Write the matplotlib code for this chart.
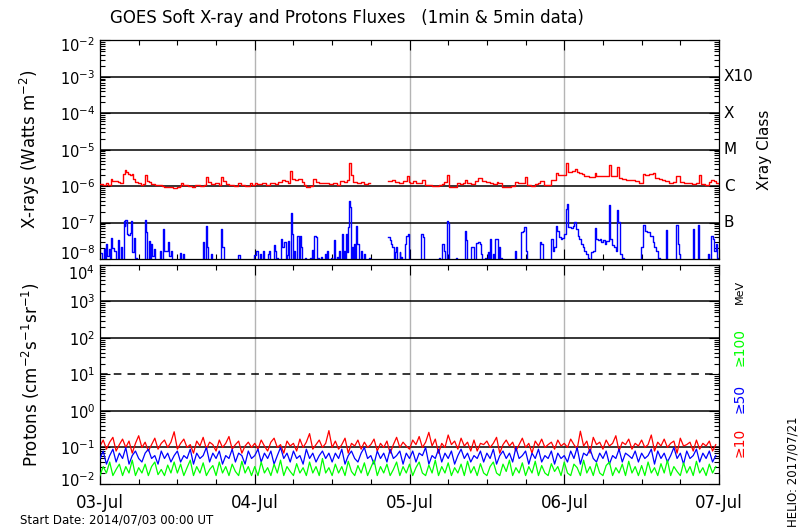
#!/usr/bin/env python3
"""GOES soft X-ray and proton fluxes, 2014-07-03 to 2014-07-07."""

import matplotlib

matplotlib.use("Agg")
from matplotlib import pyplot as plt
from matplotlib.ticker import FixedLocator, LogLocator, NullFormatter
from matplotlib.transforms import ScaledTranslation
import numpy as np

plt.rcParams["font.family"] = ["DejaVu Sans"]

DAY_LABELS = ["03-Jul", "04-Jul", "05-Jul", "06-Jul", "07-Jul"]
XRAY_CLASSES = ["X10", "X", "M", "C", "B"]
XRAY_CLASS_LEVELS = [1e-3, 1e-4, 1e-5, 1e-6, 1e-7]

# 1-8 A channel (red): hours since start, flux in 1e-6 W m-2 (nan = data gap)
xray_long_hours = [
    0.0, 0.5, 0.9, 1.3, 1.66, 1.9, 2.5, 2.8, 3.05, 3.6, 3.85, 4.1, 4.3, 4.6, 4.9, 5.1,
    5.4, 5.9, 6.3, 6.7, 7.0, 7.3, 7.6, 7.9, 8.5, 9.0, 9.6, 10.0, 10.6, 11.3, 12.0, 12.4,
    12.6, 12.9, 13.6, 14.2, 14.8, 15.5, 16.1, 16.5, 16.7, 17.2, 17.8, 18.4, 18.8, 19.1,
    19.5, 20.0, 20.8, 21.4, 21.8, 22.5, 23.2, 23.6, 24.0,
    24.4, 25.2, 25.8, 26.4, 27.1, 27.6, 28.2, 28.7, 29.1, 29.5, 29.75, 30.3, 30.75, 31.3,
    31.6, 32.0, 32.6, 33.1, 33.5, 34.0, 34.8, 35.5, 36.2, 36.8, 37.2, 37.8, 38.3, 38.6,
    38.9, 39.3, 39.9, 40.5, 41.0, 41.5, 41.9, 44.7, 45.3, 45.8, 46.4, 47.0, 47.6, 47.9, 48.1,
    48.5, 49.0, 49.6, 50.0, 50.4, 51.5, 52.5, 53.0, 53.3, 53.8, 54.2, 54.7, 55.3, 55.8,
    56.3, 56.6, 56.9, 57.6, 58.2, 58.7, 59.2, 59.8, 60.5, 61.0, 61.5, 61.8, 62.3, 63.0,
    63.8, 64.4, 64.9, 65.6, 65.9, 66.2, 66.9, 67.5, 68.0, 68.3, 68.8, 69.5, 70.0, 70.7,
    71.0, 72.0, 72.3,
    72.6, 73.2, 73.6, 73.9, 74.3, 74.7, 75.0, 75.8, 76.4, 76.8, 77.0, 78.9, 79.2, 79.9,
    80.2, 80.5, 80.9, 81.6, 82.4, 83.0, 83.6, 84.2, 84.6, 85.2, 85.7, 86.1, 86.7, 87.2,
    87.7, 88.3, 88.8, 89.4, 89.9, 90.5, 91.2, 91.8, 92.4, 92.9, 93.2, 93.8, 94.4, 94.8,
    95.3, 95.6, 96.0,
]
xray_long_flux = [
    1.15, 1.05, 1.2, 1.1, 1.6, 1.35, 1.4, 1.3, 1.2, 2.1, 2.75, 2.4, 2.1, 2.0, 2.2, 1.6,
    1.3, 1.2, 1.1, 1.15, 2.0, 1.4, 1.3, 1.15, 1.05, 1.1, 1.0, 0.95, 0.92, 0.9, 0.92, 1.0,
    1.2, 1.05, 1.0, 0.95, 1.05, 1.0, 1.1, 1.8, 1.3, 1.15, 1.2, 1.1, 1.8, 1.4,
    1.15, 1.05, 1.0, 1.2, 1.05, 1.0, 1.2, 1.1, 1.25,
    1.15, 1.2, 1.1, 1.25, 1.15, 1.3, 1.5, 1.35, 1.2, 2.6, 1.6, 1.5, 1.6, 1.3,
    1.05, 0.95, 1.0, 1.6, 1.3, 1.2, 1.25, 1.15, 1.2, 1.1, 1.35, 1.3, 1.45, 4.2,
    2.0, 1.3, 1.2, 1.3, 1.15, 1.25, np.nan, 1.4, 1.45, 1.3, 1.25, 1.35, 1.9, 1.3, 1.2,
    1.35, 1.2, 1.25, 1.5, 1.05, 1.03, 1.05, 1.15, 1.3, 2.0, 0.97, 0.93, 1.2, 1.15,
    1.2, 1.5, 1.2, 1.15, 1.4, 1.7, 1.35, 1.3, 1.2, 1.15, 1.3, 1.2, 0.95, 0.93,
    1.0, 1.3, 1.2, 1.25, 1.8, 1.05, 1.0, 1.15, 1.2, 1.35, 1.05, 1.1, 1.5, 2.3,
    2.0, 2.0, 4.2,
    2.5, 2.6, 3.0, 2.5, 2.3, 2.1, 1.85, 1.8, 1.75, 2.25, 1.95, 3.8, 1.9, 1.85,
    3.4, 1.7, 1.55, 1.5, 1.45, 1.35, 1.25, 2.2, 2.05, 2.1, 2.3, 1.7, 1.55, 1.5,
    1.35, 1.25, 1.3, 1.95, 1.3, 1.2, 1.25, 1.15, 1.2, 2.0, 1.15, 1.1, 1.3, 1.5,
    1.4, 1.2, 1.15,
]

# 0.5-4 A channel (blue): hours since start, flux in 1e-8 W m-2 (values < 1 sit below the axis)
xray_short_hours = [
    0.0, 0.25, 0.6, 0.8, 0.95, 1.15, 1.45, 1.6, 1.7, 1.9, 2.2, 2.45, 2.75, 2.95, 3.25, 3.4,
    3.65, 3.85, 3.95, 4.15, 4.4, 4.6, 4.8, 4.95, 5.3, 5.5, 5.8, 6.95, 7.15, 7.35, 7.55, 7.7,
    7.95, 8.1, 8.45, 8.6, 9.25, 9.4, 9.75, 9.9, 10.5, 10.7, 10.95, 11.1, 12.35, 12.5, 12.85,
    13.0, 15.9, 16.1, 16.4, 16.6, 16.8, 17.25, 17.4, 18.7, 18.95, 19.2, 21.4, 21.7, 23.9,
    24.25,
    24.45, 24.75, 24.9, 25.25, 25.4, 26.05, 26.2, 26.4, 26.95, 27.1, 27.3, 27.45, 27.6,
    28.1, 28.3, 28.6, 28.8, 28.95, 29.1, 29.3, 29.55, 29.7, 29.9, 30.05, 30.2, 30.6, 30.8,
    30.95, 31.1, 31.35, 31.75, 31.9, 32.55, 32.7, 32.85, 33.0, 33.25, 33.45, 33.65, 33.75,
    33.9, 34.35, 34.5, 34.85, 35.0, 35.25, 35.4, 35.85, 36.0, 36.35, 36.5, 36.75, 36.9,
    37.1, 37.25, 37.5, 37.65, 37.85, 38.0, 38.15, 38.3, 38.45, 38.6, 38.8, 39.0, 39.1,
    39.25, 39.35, 39.5, 39.7, 39.9, 40.1, 40.45, 40.6, 40.95, 41.1, 41.75, 41.9, 44.7,
    44.95, 45.15, 45.35, 45.6, 45.75, 45.9, 46.1, 46.45, 46.6, 46.75, 46.9, 47.25, 47.45,
    47.7, 47.95,
    48.3, 49.85, 50.05, 50.3, 52.65, 52.8, 53.1, 53.3, 53.45, 53.8, 54.0, 54.15, 55.25,
    55.4, 56.55, 56.75, 56.95, 57.55, 57.75, 57.95, 58.3, 58.6, 58.9, 59.1, 59.3, 59.65,
    59.8, 60.15, 60.3, 60.55, 60.7, 60.95, 61.1, 61.25, 61.55, 61.7, 61.85, 62.0, 62.25,
    62.4, 64.35, 64.5, 65.35, 65.55, 65.8, 66.0, 66.25, 68.25, 68.45, 68.65, 70.0, 70.2,
    70.45, 70.7, 70.95, 71.2, 71.45, 71.7, 71.95, 72.2, 72.45,
    72.65, 73.0, 73.3, 73.55, 73.8, 74.1, 74.35, 74.6, 74.85, 75.1, 75.4, 75.65, 75.9,
    76.2, 76.45, 76.7, 76.95, 77.2, 77.5, 77.75, 78.0, 78.3, 78.55, 78.9, 79.1, 79.4,
    79.7, 79.95, 80.2, 80.4, 80.7, 81.0, 81.3, 83.9, 84.2, 84.5, 84.9, 85.3, 85.7, 85.95,
    86.2, 86.6, 86.9, 87.85, 88.0, 89.4, 89.6, 89.85, 90.0, 91.95, 92.1, 92.75, 92.9,
    94.25, 94.5, 94.75, 95.0, 95.3, 95.5, 95.75, 96.0,
]
xray_short_flux = [
    1.45, 0.5, 1.9, 0.5, 2.6, 1.2, 1.9, 0.5, 3.8, 2.0, 1.7, 0.5, 3.4, 0.5, 2.2, 0.5,
    11.3, 8.0, 11.7, 5.0, 4.5, 5.2, 11.3, 1.55, 3.8, 1.1, 0.5, 11.8, 5.4, 0.5, 3.1, 0.5,
    2.6, 1.2, 1.9, 0.5, 1.7, 0.5, 6.7, 1.7, 2.9, 1.2, 1.7, 0.5, 1.5, 0.5, 1.4,
    0.5, 2.9, 0.5, 8.3, 2.2, 0.5, 1.4, 0.5, 6.7, 2.2, 0.5, 1.3, 0.5, 1.3,
    1.7,
    0.5, 1.4, 0.5, 1.7, 0.5, 1.4, 1.7, 0.5, 2.5, 1.7, 0.5, 1.1, 0.5,
    3.6, 2.2, 2.9, 0.5, 1.25, 3.2, 0.5, 18.0, 4.9, 0.5, 1.7, 0.5, 4.4, 0.5,
    4.2, 2.2, 0.5, 1.1, 0.5, 1.1, 0.5, 1.8, 0.5, 4.4, 4.0, 0.5, 1.1,
    0.5, 1.15, 0.5, 1.4, 0.5, 1.7, 0.5, 1.1, 0.5, 3.3, 0.5, 1.15, 0.5,
    1.7, 0.5, 4.9, 0.5, 1.7, 0.5, 4.9, 1.6, 7.4, 38.0, 26.0, 0.5, 2.2,
    0.5, 2.6, 0.5, 8.3, 2.6, 0.5, 1.7, 0.5, 1.4, 0.5, 1.1, np.nan, 3.9,
    3.3, 2.6, 2.2, 0.5, 1.55, 2.2, 0.5, 1.55, 0.5, 1.15, 0.5, 2.6, 4.4,
    4.9, 0.5,
    0.5, 4.9, 3.9, 0.5, 1.1, 0.5, 2.6, 1.7, 0.5, 11.3, 9.6, 0.5, 1.1,
    0.5, 6.0, 3.3, 0.5, 2.2, 2.1, 0.5, 2.7, 2.9, 2.6, 1.4, 0.5, 1.1,
    0.5, 1.55, 0.5, 3.6, 0.5, 1.4, 0.5, 3.6, 3.5, 0.5, 2.2, 0.5, 1.1,
    0.5, 1.7, 0.5, 5.4, 6.0, 7.4, 1.7, 0.5, 2.9, 2.6, 0.5, 3.6, 1.7,
    2.2, 8.3, 6.0, 3.9, 3.6, 3.8, 4.9, 24.0, 32.0,
    7.5, 7.3, 8.3, 10.2, 6.7, 4.4, 3.6, 2.6, 2.2, 1.7, 1.4, 1.1, 0.8,
    1.55, 1.7, 7.1, 3.6, 3.3, 3.6, 3.0, 3.3, 2.6, 3.1, 31.0, 3.6, 2.4,
    2.2, 1.7, 22.0, 10.2, 1.4, 1.1, 0.5, 2.2, 8.8, 6.0, 5.4, 4.4, 2.9, 2.2,
    1.7, 1.1, 0.5, 6.3, 0.5, 8.8, 2.6, 1.4, 0.5, 6.7, 0.5, 8.8, 0.5,
    1.4, 0.5, 4.4, 3.6, 1.7, 2.6, 1.1, 0.5,
]

# integral proton fluxes (pfu), one value every 30 minutes
proton_hours = np.arange(0.0, 96.0, 0.5)
proton_10mev = [
    0.11, 0.16, 0.09, 0.14, 0.19, 0.08, 0.12, 0.17, 0.10, 0.15, 0.07, 0.13, 0.21, 0.10, 0.14, 0.08, 0.12, 0.18, 0.09, 0.13, 0.16, 0.10, 0.14, 0.27,
    0.09, 0.13, 0.17, 0.10, 0.12, 0.07, 0.15, 0.11, 0.19, 0.09, 0.14, 0.12, 0.08, 0.16, 0.10, 0.13, 0.20, 0.09, 0.12, 0.15, 0.07, 0.11, 0.14, 0.10,
    0.13, 0.09, 0.16, 0.11, 0.08, 0.14, 0.18, 0.10, 0.12, 0.07, 0.15, 0.11, 0.13, 0.08, 0.17, 0.10, 0.14, 0.24, 0.09, 0.12, 0.16, 0.10, 0.13, 0.29,
    0.10, 0.15, 0.09, 0.12, 0.18, 0.07, 0.13, 0.11, 0.16, 0.09, 0.14, 0.10, 0.12, 0.17, 0.08, 0.13, 0.10, 0.15, 0.07, 0.12, 0.19, 0.10, 0.14, 0.11,
    0.09, 0.16, 0.12, 0.20, 0.10, 0.14, 0.26, 0.11, 0.17, 0.07, 0.13, 0.10, 0.22, 0.12, 0.15, 0.09, 0.18, 0.11, 0.14, 0.08, 0.16, 0.08, 0.13, 0.12,
    0.15, 0.10, 0.13, 0.19, 0.07, 0.12, 0.16, 0.11, 0.14, 0.08, 0.12, 0.18, 0.10, 0.13, 0.07, 0.15, 0.11, 0.17, 0.10, 0.12, 0.14, 0.09, 0.16, 0.11,
    0.13, 0.10, 0.17, 0.12, 0.09, 0.28, 0.11, 0.15, 0.07, 0.19, 0.12, 0.14, 0.09, 0.16, 0.11, 0.13, 0.21, 0.08, 0.14, 0.12, 0.17, 0.09, 0.13, 0.11,
    0.16, 0.10, 0.12, 0.22, 0.08, 0.14, 0.11, 0.17, 0.10, 0.13, 0.15, 0.07, 0.18, 0.11, 0.12, 0.14, 0.08, 0.16, 0.09, 0.13, 0.11, 0.15, 0.08, 0.12,
]
proton_50mev = [
    0.05, 0.08, 0.035, 0.06, 0.09, 0.04, 0.07, 0.05, 0.10, 0.035, 0.06, 0.08, 0.05, 0.04, 0.07, 0.09, 0.05, 0.06, 0.035, 0.08, 0.05, 0.07, 0.04, 0.06,
    0.08, 0.04, 0.06, 0.05, 0.09, 0.035, 0.07, 0.05, 0.06, 0.10, 0.04, 0.07, 0.05, 0.08, 0.035, 0.06, 0.05, 0.09, 0.04, 0.07, 0.06, 0.035, 0.08, 0.05,
    0.06, 0.09, 0.04, 0.07, 0.05, 0.08, 0.035, 0.06, 0.10, 0.05, 0.07, 0.04, 0.08, 0.05, 0.06, 0.035, 0.09, 0.05, 0.07, 0.04, 0.06, 0.08, 0.05, 0.07,
    0.04, 0.07, 0.05, 0.09, 0.035, 0.06, 0.08, 0.05, 0.04, 0.07, 0.10, 0.05, 0.06, 0.035, 0.08, 0.05, 0.07, 0.04, 0.09, 0.05, 0.06, 0.08, 0.035, 0.07,
    0.05, 0.08, 0.04, 0.07, 0.06, 0.10, 0.035, 0.06, 0.05, 0.09, 0.04, 0.07, 0.05, 0.08, 0.035, 0.06, 0.09, 0.05, 0.07, 0.04, 0.06, 0.05, 0.08, 0.04,
    0.07, 0.05, 0.09, 0.035, 0.06, 0.08, 0.05, 0.07, 0.04, 0.10, 0.05, 0.06, 0.08, 0.035, 0.07, 0.05, 0.09, 0.04, 0.06, 0.05, 0.08, 0.035, 0.07, 0.05,
    0.06, 0.04, 0.08, 0.05, 0.10, 0.035, 0.07, 0.06, 0.09, 0.05, 0.04, 0.07, 0.05, 0.08, 0.035, 0.06, 0.05, 0.09, 0.04, 0.07, 0.06, 0.05, 0.08, 0.04,
    0.07, 0.05, 0.06, 0.09, 0.035, 0.08, 0.05, 0.07, 0.04, 0.06, 0.10, 0.05, 0.07, 0.035, 0.08, 0.05, 0.06, 0.09, 0.04, 0.07, 0.05, 0.08, 0.04, 0.06,
]
proton_100mev = [
    0.017, 0.03, 0.02, 0.04, 0.017, 0.025, 0.035, 0.017, 0.03, 0.02, 0.045, 0.017, 0.028, 0.02, 0.035, 0.017, 0.03, 0.04, 0.018, 0.025, 0.017, 0.033, 0.02, 0.04,
    0.02, 0.035, 0.017, 0.028, 0.045, 0.017, 0.03, 0.02, 0.038, 0.017, 0.025, 0.032, 0.017, 0.04, 0.02, 0.03, 0.017, 0.035, 0.022, 0.017, 0.042, 0.02, 0.03, 0.017,
    0.03, 0.017, 0.04, 0.02, 0.028, 0.017, 0.035, 0.02, 0.045, 0.017, 0.03, 0.022, 0.017, 0.036, 0.02, 0.028, 0.017, 0.04, 0.02, 0.03, 0.017, 0.05, 0.02, 0.028,
    0.017, 0.035, 0.02, 0.03, 0.017, 0.042, 0.022, 0.017, 0.032, 0.02, 0.038, 0.017, 0.028, 0.045, 0.017, 0.03, 0.02, 0.035, 0.017, 0.025, 0.04, 0.017, 0.03, 0.02,
    0.035, 0.017, 0.028, 0.04, 0.02, 0.017, 0.033, 0.02, 0.045, 0.017, 0.03, 0.02, 0.038, 0.017, 0.028, 0.02, 0.035, 0.017, 0.042, 0.02, 0.03, 0.017, 0.036, 0.02,
    0.017, 0.03, 0.04, 0.02, 0.017, 0.035, 0.022, 0.045, 0.017, 0.028, 0.02, 0.038, 0.017, 0.03, 0.02, 0.042, 0.017, 0.032, 0.02, 0.017, 0.036, 0.022, 0.03, 0.017,
    0.04, 0.02, 0.017, 0.035, 0.028, 0.017, 0.045, 0.02, 0.03, 0.017, 0.038, 0.02, 0.017, 0.032, 0.04, 0.017, 0.028, 0.02, 0.035, 0.017, 0.042, 0.02, 0.03, 0.017,
    0.032, 0.017, 0.04, 0.02, 0.028, 0.017, 0.036, 0.02, 0.045, 0.017, 0.03, 0.022, 0.017, 0.038, 0.02, 0.03, 0.017, 0.042, 0.02, 0.028, 0.017, 0.035, 0.02, 0.03,
]

RED = "#ff0000"
BLUE = "#0000ff"
GREEN = "#00ff00"
GRAY = "#b4b4b4"


def _style_axis(axis, decades, dashed=()):
    axis.set_yscale("log")
    axis.set_xlim(0, 96)
    axis.set_ylim(10.0 ** decades[0], 10.0 ** decades[-1])
    axis.yaxis.set_major_locator(FixedLocator([10.0**d for d in decades]))
    axis.yaxis.set_minor_locator(LogLocator(base=10, subs=np.arange(2, 10), numticks=20))
    axis.yaxis.set_minor_formatter(NullFormatter())
    axis.xaxis.set_major_locator(FixedLocator(np.arange(0, 97, 24)))
    axis.xaxis.set_minor_locator(FixedLocator(np.arange(0, 97, 6)))
    axis.tick_params(which="both", direction="in", top=True, right=True, width=0.8, labelsize=10.5)
    axis.tick_params(which="major", length=7)
    axis.tick_params(which="minor", length=3.5)
    for spine in axis.spines.values():
        spine.set_linewidth(0.9)
    for d in decades[1:-1]:
        axis.axhline(10.0**d, color="black", linewidth=1.1,
                     linestyle=(0, (5, 4)) if d in dashed else "-", zorder=1)
    for day in (24, 48, 72):
        axis.axvline(day, color=GRAY, linewidth=1.0, zorder=0.5)


def _nudge_end_labels(axis, low_px, high_px):
    labels = axis.get_yticklabels()
    for label, shift in ((labels[0], low_px), (labels[-1], -high_px)):
        offset = ScaledTranslation(0, shift / 100, axis.figure.dpi_scale_trans)
        label.set_transform(label.get_transform() + offset)


figure = plt.figure(figsize=(8, 5.3), dpi=100)
xray_axis = figure.add_axes([0.125, 0.5113, 0.77375, 0.4123])
proton_axis = figure.add_axes([0.125, 0.0868, 0.77375, 0.4132])

_style_axis(xray_axis, list(range(-8, -1)))
xray_axis.tick_params(labelbottom=False)
xray_axis.step(xray_short_hours, np.asarray(xray_short_flux) * 1e-8, where="post",
               color=BLUE, linewidth=1.0, zorder=2)
xray_axis.step(xray_long_hours, np.asarray(xray_long_flux) * 1e-6, where="post",
               color=RED, linewidth=1.0, zorder=3)
xray_axis.set_ylabel(r"X-rays (Watts m$^{-2}$)", fontsize=12)
xray_axis.yaxis.set_label_coords(-0.094, 0.5)
for label, level in zip(XRAY_CLASSES, XRAY_CLASS_LEVELS):
    xray_axis.text(1.008, level, label, transform=xray_axis.get_yaxis_transform(),
                   ha="left", va="center", fontsize=11)
figure.text(765 / 800, 1 - 150 / 530, "Xray Class", rotation=90, ha="center", va="center", fontsize=11)

_style_axis(proton_axis, list(range(-2, 5)), dashed=(1,))
proton_axis.plot(proton_hours, proton_10mev, color=RED, linewidth=0.9, zorder=2)
proton_axis.plot(proton_hours, proton_50mev, color=BLUE, linewidth=0.9, zorder=3)
proton_axis.plot(proton_hours, proton_100mev, color=GREEN, linewidth=0.9, zorder=4)
proton_axis.set_xticklabels(DAY_LABELS)
proton_axis.tick_params(axis="x", which="major", pad=7, labelsize=12)
proton_axis.set_ylabel(r"Protons (cm$^{-2}$s$^{-1}$sr$^{-1}$)", fontsize=12)
proton_axis.yaxis.set_label_coords(-0.094, 0.5)

figure.text(740 / 800, 1 - 292 / 530, "MeV", rotation=90, ha="center", va="center", fontsize=8)
figure.text(740 / 800, 1 - 347 / 530, "≥100", rotation=90, ha="center", va="center", fontsize=10, color=GREEN)
figure.text(740 / 800, 1 - 398 / 530, "≥50", rotation=90, ha="center", va="center", fontsize=10, color=BLUE)
figure.text(740 / 800, 1 - 442 / 530, "≥10", rotation=90, ha="center", va="center", fontsize=10, color=RED)

figure.text(110 / 800, 1 - 18 / 530, "GOES Soft X-ray and Protons Fluxes   (1min & 5min data)",
            ha="left", va="center", fontsize=12)
figure.text(20 / 800, 1 - 520 / 530, "Start Date: 2014/07/03 00:00 UT", ha="left", va="center", fontsize=8.5)
figure.text(793 / 800, 1 - 472 / 530, "HELIO: 2017/07/21", rotation=90, ha="center", va="center", fontsize=8.5)

figure.canvas.draw()
_nudge_end_labels(xray_axis, 7, 4)
_nudge_end_labels(proton_axis, 5, 7)

figure.savefig("out.png", dpi=100, facecolor="white")
plt.close(figure)
